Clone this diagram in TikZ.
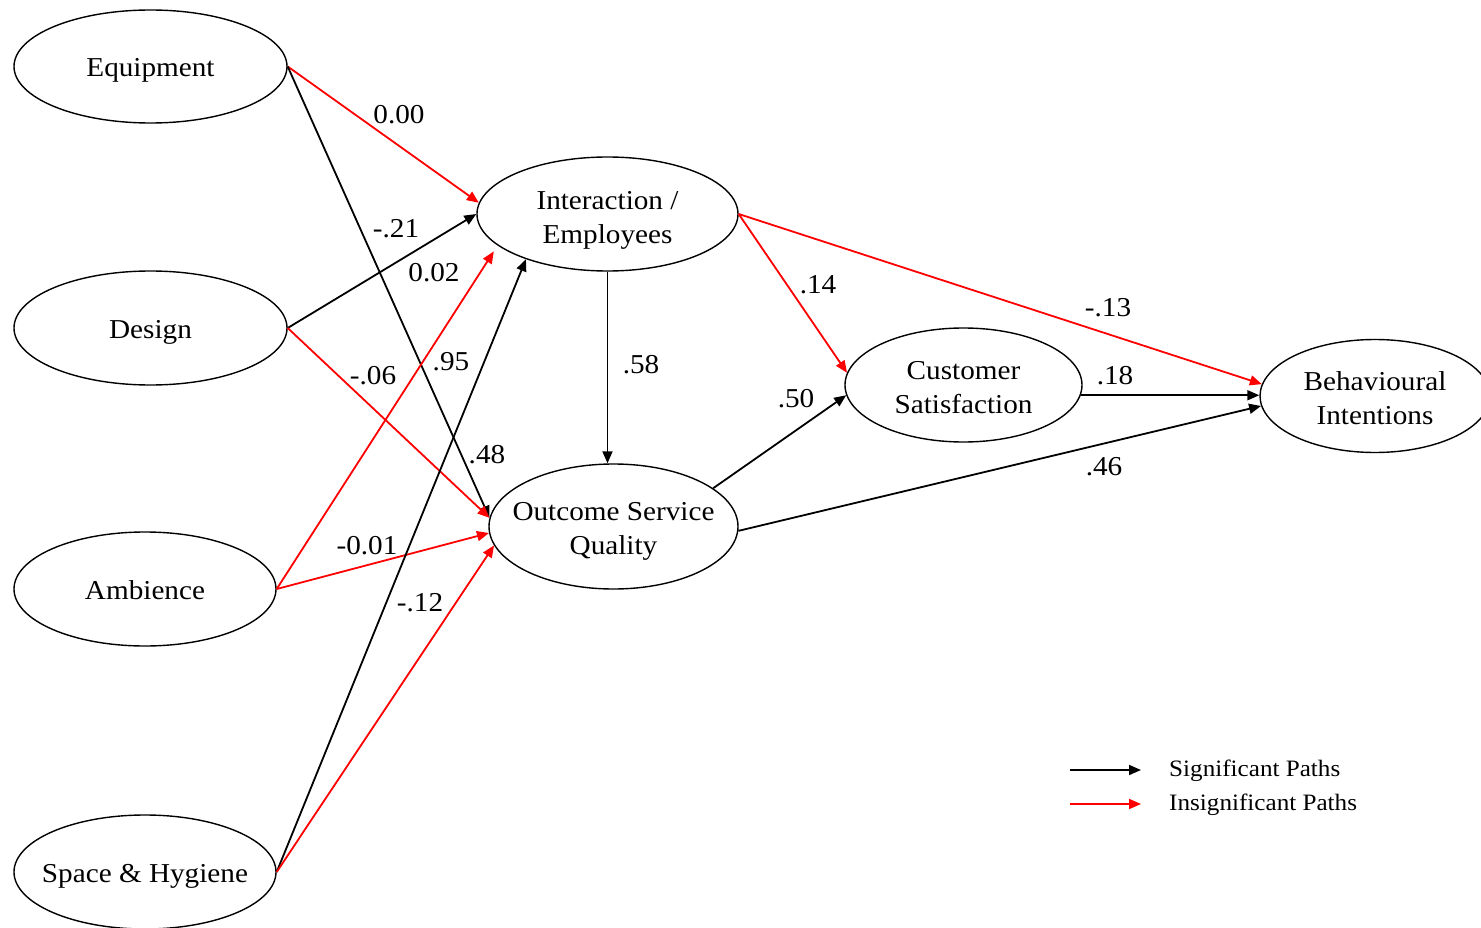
\documentclass[tikz,border=0pt]{standalone}
\usepackage{fontspec}
\setmainfont[FakeStretch=1.07]{Liberation Serif}
\usetikzlibrary{shapes.geometric,arrows.meta}
\begin{document}
\begin{tikzpicture}[x=1pt,y=-1pt,
  construct/.style={draw,ellipse,line width=1.4pt,inner sep=0pt},
  ctext/.style={inner sep=0pt,align=center,font=\fontsize{27.3}{34}\selectfont},
  coef/.style={inner sep=0pt,font=\fontsize{27.3}{30}\selectfont},
  legtext/.style={anchor=west,inner sep=0pt,font=\fontsize{23.5}{26}\selectfont},
  sig/.style={draw=black,line width=1.8pt,-{Triangle[length=12pt,width=10pt]}},
  nsig/.style={sig,draw=red}]
\useasboundingbox (0,0) rectangle (1481,928);

% latent constructs (outline)
\node[construct,minimum width=273pt,minimum height=113pt] (eq) at (150.5,66.5) {};
\node[construct,minimum width=273pt,minimum height=114pt] (de) at (150.5,328) {};
\node[construct,minimum width=262pt,minimum height=114pt] (am) at (145,589) {};
\node[construct,minimum width=262pt,minimum height=114pt] (sh) at (145,872) {};
\node[construct,minimum width=261pt,minimum height=114pt] (ie) at (607.5,214) {};
\node[construct,minimum width=249pt,minimum height=125pt] (os) at (613.5,526.5) {};
\node[construct,minimum width=237pt,minimum height=114pt] (cs) at (963.5,385) {};
\node[construct,minimum width=230pt,minimum height=113pt] (bi) at (1375,396) {};

% construct names
\node[ctext,yshift=-4pt] (eq-t) at (eq) {Equipment};
\node[ctext,yshift=-4pt] (de-t) at (de) {Design};
\node[ctext,yshift=-1pt] (am-t) at (am) {Ambience};
\node[ctext,yshift=-4pt] (sh-t) at (sh) {Space \& Hygiene};
\node[ctext,yshift=-6pt] (ie-t) at (ie) {Interaction /\\Employees};
\node[ctext,yshift=-5pt] (os-t) at (os) {Outcome Service\\Quality};
\node[ctext,yshift=-3pt] (cs-t) at (cs) {Customer\\Satisfaction};
\node[ctext,yshift=-2pt] (bi-t) at (bi) {Behavioural\\Intentions};

% structural paths
\draw[nsig] (eq.east) -- (ie.175);
\draw[sig]  (eq.east) -- (os.176);
\draw[sig]  (de.east) -- (ie.180);
\draw[nsig] (de.east) -- (os.176);
\draw[nsig,shorten >=7pt] (am.east) -- (ie.196);
\draw[nsig] (am.east) -- (os.183);
\draw[sig]  (sh.east) -- (ie.209);
\draw[nsig] (sh.east) -- (os.189);
\draw[sig]  (ie.south) -- (ie.south |- os.north);
\draw[nsig] (ie.east) -- (cs.174);
\draw[nsig] (ie.east) -- (bi.174);
\draw[sig]  (os.21) -- (cs.185);
\draw[sig]  (os.-2) -- (bi.185.5);
\draw[sig]  (cs.-5) -- (cs.-5 -| bi.west);

% path coefficients
\node[coef] (c1)  at (399,115) {0.00};
\node[coef] (c2)  at (396,229) {-.21};
\node[coef] (c3)  at (434,273) {0.02};
\node[coef] (c4)  at (373,376) {-.06};
\node[coef] (c5)  at (451,362) {.95};
\node[coef] (c6)  at (487,455) {.48};
\node[coef] (c7)  at (367,546) {-0.01};
\node[coef] (c8)  at (420,603) {-.12};
\node[coef] (c9)  at (641,365) {.58};
\node[coef] (c10) at (818,285) {.14};
\node[coef] (c11) at (1108,308) {-.13};
\node[coef] (c12) at (796,399) {.50};
\node[coef] (c13) at (1115,376) {.18};
\node[coef] (c14) at (1104,467) {.46};

% legend
\coordinate (k1a) at (1070,770);
\coordinate (k1b) at (1141,770);
\coordinate (k2a) at (1070,804);
\coordinate (k2b) at (1141,804);
\draw[sig]  (k1a) -- (k1b);
\draw[nsig] (k2a) -- (k2b);
\node[legtext] (t1) at (1169,771) {Significant Paths};
\node[legtext] (t2) at (1169,805) {Insignificant Paths};
\end{tikzpicture}
\end{document}
